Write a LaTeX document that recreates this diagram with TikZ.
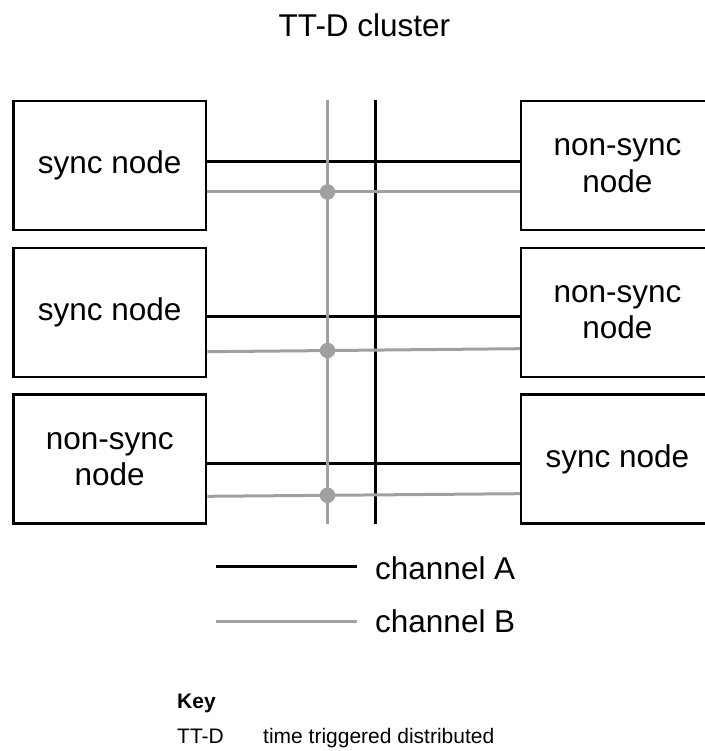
\documentclass[tikz,border=0pt]{standalone}
\usepackage{fontspec}
\setmainfont{Liberation Sans}
\definecolor{busgray}{HTML}{A0A0A0}
\begin{document}
\begin{tikzpicture}[x=1pt,y=-1pt,
  box/.style={draw, line width=2.6pt, minimum width=192.7pt, minimum height=129pt,
    inner sep=0pt, align=center, font=\fontsize{31.5}{36.6}\selectfont},
  chA/.style={line width=2.6pt, black},
  chB/.style={line width=3pt, busgray},
  busdot/.style={circle, fill=busgray, inner sep=0pt, minimum size=15.5pt},
  big/.style={inner sep=0pt, font=\fontsize{31.5}{36.6}\selectfont},
  small/.style={inner sep=0pt, font=\fontsize{21}{24}\selectfont}]
\useasboundingbox (0,0) rectangle (704,751);

% title
\node[big, anchor=base] (title) at (364.5,36.5) {TT-D cluster};

% nodes
\node[box] (l1) at (109.7,165.5) {sync node};
\node[box] (l2) at (109.7,312.3) {sync node};
\node[box] (l3) at (109.7,459) {non-sync\\node};
\node[box] (r1) at (617.4,165.5) {non-sync\\node};
\node[box] (r2) at (617.4,312.3) {non-sync\\node};
\node[box] (r3) at (617.4,459) {sync node};

% buses
\coordinate (Btop) at (327.5,100);
\coordinate (Bbot) at (327.5,524);
\coordinate (Atop) at (375.5,100);
\coordinate (Abot) at (375.5,524);

% channel A (black)
\draw[chA] (Atop) -- (Abot);
\draw[chA] ([yshift=4pt]l1.east) -- ([yshift=4pt]r1.west);
\draw[chA] ([yshift=-4.4pt]l2.east) -- ([yshift=-4.4pt]r2.west);
\draw[chA] ([yshift=-4.7pt]l3.east) -- ([yshift=-4.7pt]r3.west);

% channel B (gray)
\draw[chB] (Btop) -- (Bbot);
\draw[chB] ([yshift=-26.5pt]l1.east) -- ([yshift=-26.5pt]r1.west);
\draw[chB] ([yshift=-39.4pt]l2.east) -- ([yshift=-36.4pt]r2.west);
\draw[chB] ([yshift=-37.3pt]l3.east) -- ([yshift=-34.7pt]r3.west);

\node[busdot] (d1) at (327.5,192) {};
\node[busdot] (d2) at (327.5,350.5) {};
\node[busdot] (d3) at (327.5,495.3) {};

% legend
\coordinate (la1) at (216,566.7);
\coordinate (la2) at (356.7,566.7);
\coordinate (lb1) at (216,621.7);
\coordinate (lb2) at (356.7,621.7);
\draw[chA] (la1) -- (la2);
\draw[chB] (lb1) -- (lb2);
\node[big, anchor=base west] (legA) at (375,579.3) {channel A};
\node[big, anchor=base west] (legB) at (375,632.3) {channel B};

% key
\node[small, anchor=base west] (key) at (177,708.3) {\bfseries Key};
\node[small, anchor=base west] (ttd) at (177,743.3) {TT-D};
\node[small, anchor=base west] (ttdx) at (263,743.3) {time triggered distributed};
\end{tikzpicture}
\end{document}
